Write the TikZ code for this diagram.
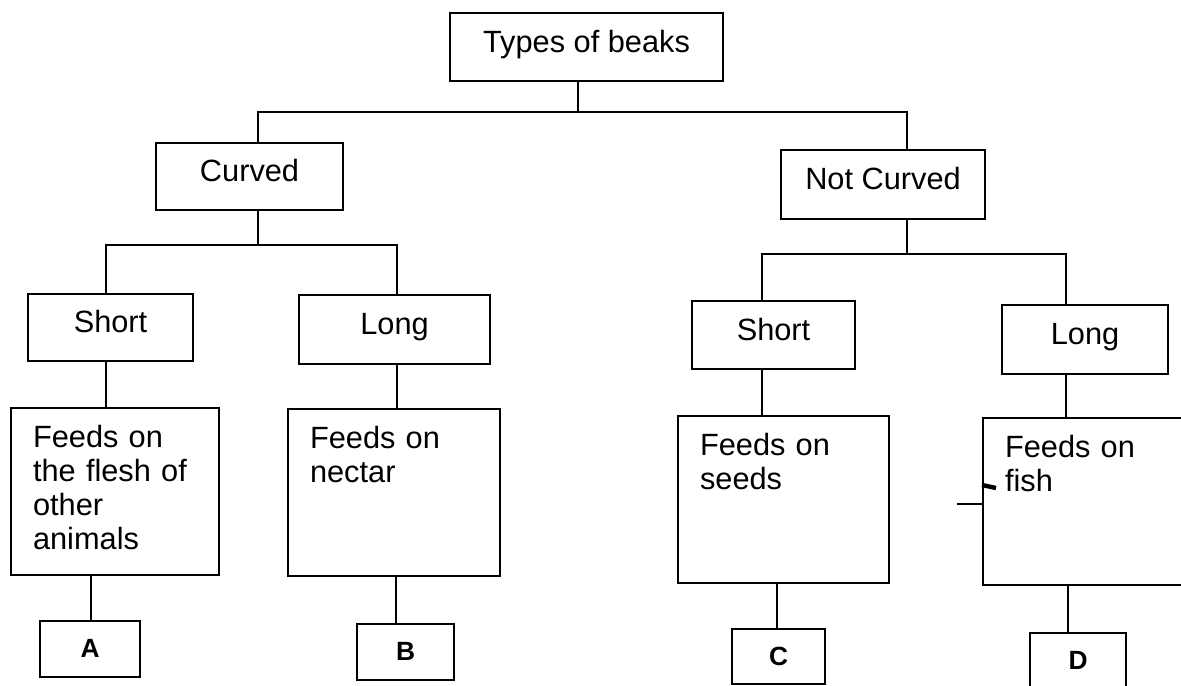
\documentclass[tikz,border=0pt]{standalone}
\usepackage{fontspec}
\setmainfont{Liberation Sans}
\usepackage{tikz}

\begin{document}
\begin{tikzpicture}[x=0.02cm, y=-0.02cm, line width=1.2pt,
  every node/.style={draw, rectangle, anchor=north west, inner sep=0pt, font=\fontsize{17.5}{19.4}\selectfont, text height=13pt, text depth=7pt},
  feedbox/.style={align=left, text width=#1, inner xsep=0.44cm, inner ysep=0.3cm, text height=0.48cm, text depth=2.26cm},
  letterbox/.style={font=\fontsize{15}{18}\selectfont\bfseries, text height=10pt, text depth=0pt}]

\useasboundingbox (0,0) rectangle (1181,686);
\fill[white] (0,0) rectangle (1181,686);

\node[minimum width=5.46cm, minimum height=1.36cm] (root) at (449,12) {Types of beaks};
\node[minimum width=3.74cm, minimum height=1.34cm] (curved) at (155,142) {Curved};
\node[minimum width=4.08cm, minimum height=1.38cm] (notcurved) at (780,149) {Not Curved};
\node[minimum width=3.3cm, minimum height=1.34cm] (shortL) at (27,293) {Short};
\node[minimum width=3.82cm, minimum height=1.38cm] (longL) at (298,294) {Long};
\node[minimum width=3.26cm, minimum height=1.36cm] (shortR) at (691,300) {Short};
\node[minimum width=3.32cm, minimum height=1.38cm] (longR) at (1001,304) {Long};

\node[feedbox=3.28cm] (flesh) at (10,407) {Feeds on\\the flesh of\\other\\animals};
\node[feedbox=3.36cm] (nectar) at (287,408) {Feeds on\\nectar};
\node[feedbox=3.34cm] (seeds) at (677,415) {Feeds on\\seeds};
\node[feedbox=3.42cm] (fish) at (982,417) {Feeds on\\fish};

\node[letterbox, minimum width=2cm, minimum height=1.12cm] (A) at (39,620) {A};
\node[letterbox, minimum width=1.94cm, minimum height=1.12cm] (B) at (356,623) {B};
\node[letterbox, minimum width=1.86cm, minimum height=1.1cm] (C) at (731,628) {C};
\node[letterbox, minimum width=1.92cm, minimum height=1.12cm] (D) at (1029,632) {D};

\coordinate (j0) at (578,112);
\coordinate (j1) at (258,245);
\coordinate (j2) at (907,254);

\draw (root.south -| j0) -- (j0);
\draw (curved.north -| j1) |- (j0) -| (notcurved.north -| j2);
\draw (curved.south -| j1) -- (j1);
\draw (notcurved.south -| j2) -- (j2);
\draw (shortL.north -| 106,0) |- (j1) -| (longL.north -| 397,0);
\draw (shortR.north -| 762,0) |- (j2) -| (longR.north -| 1066,0);

\foreach \a/\b/\x in {shortL/flesh/106, longL/nectar/397, shortR/seeds/762, longR/fish/1066, flesh/A/91, nectar/B/396, seeds/C/777, fish/D/1068} {
    \draw (\a.south -| \x,0) -- (\b.north -| \x,0);
}

% marks left of the fish box
\draw (fish.west |- 0,504) -- ++(-25,0);
\draw[line width=2.5pt] (fish.west |- 0,485) -- ++(14,3);

\end{tikzpicture}
\end{document}
